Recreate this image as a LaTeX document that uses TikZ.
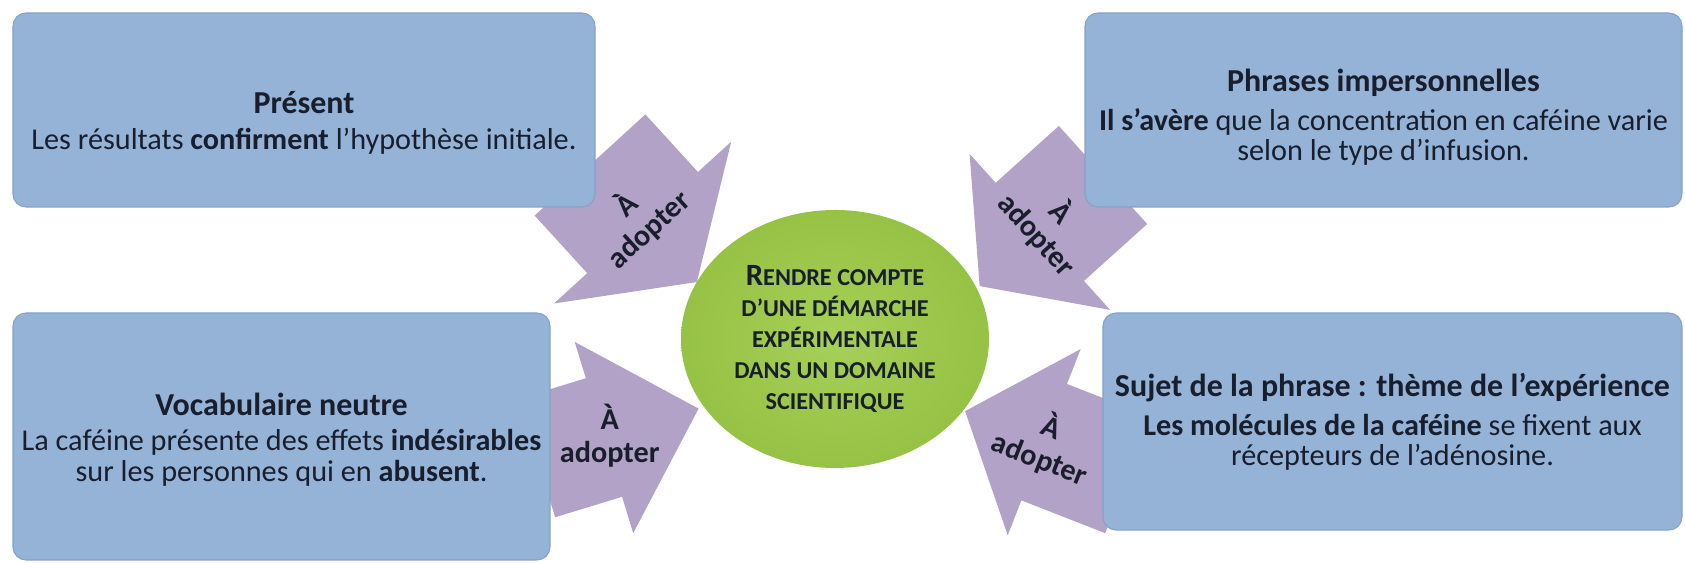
\documentclass[tikz,border=0pt]{standalone}
\usepackage{fontspec}
\setmainfont{Carlito}
\usetikzlibrary{shapes.geometric}

\definecolor{bleuboite}{RGB}{149,179,215}
\definecolor{bordboite}{RGB}{132,162,200}
\definecolor{lila}{RGB}{179,162,199}
\definecolor{encre}{RGB}{25,30,45}
\definecolor{vertA}{RGB}{166,208,88}
\definecolor{vertB}{RGB}{148,192,66}
\definecolor{vertC}{RGB}{116,158,38}
\pgfdeclareradialshading{boule}{\pgfpoint{0bp}{0bp}}{color(0bp)=(vertA); color(28bp)=(vertB); color(50bp)=(vertC)}

\newcommand{\titreboite}{\fontsize{9.1}{9.1}\selectfont\bfseries}

\tikzset{
  boite/.style={rectangle, rounded corners=1.3mm, fill=bleuboite, draw=bordboite,
    line width=0.3pt, inner sep=0pt},
  texteboite/.style={text=encre, align=center, inner sep=0pt,
    font=\fontsize{8.6}{8.6}\selectfont},
  fleche/.style={fill=lila},
  motfleche/.style={text=encre, align=center, inner sep=0pt,
    font=\fontsize{8.6}{9.4}\selectfont\bfseries}
}

\begin{document}
\begin{tikzpicture}

  \useasboundingbox (0,0) rectangle (16.85,5.63);

  % Flèche en haut à gauche
  \begin{scope}[shift={(5.90,3.98)}, rotate=-47.6]
    \fill[fleche] (0,-0.75) -- (0.78,-0.75) -- (0.78,-1.20) -- (1.585,0)
      -- (0.78,1.20) -- (0.78,0.75) -- (0,0.75) -- cycle;
    \node[motfleche, rotate=42.4] (mot1) at (0.70,0) {À\\adopter};
  \end{scope}

  % Flèche en bas à gauche
  \begin{scope}[shift={(5.37,1.05)}, rotate=17]
    \fill[fleche] (0,-0.62) -- (0.70,-0.62) -- (0.70,-1.00) -- (1.69,0)
      -- (0.70,1.00) -- (0.70,0.62) -- (0,0.62) -- cycle;
    \node[motfleche] (mot2) at (0.76,0) {À\\adopter};
  \end{scope}

  % Flèche en haut à droite
  \begin{scope}[shift={(11.03,3.88)}, rotate=222]
    \fill[fleche] (0,-0.66) -- (0.85,-0.66) -- (0.85,-1.05) -- (1.66,0)
      -- (0.85,1.05) -- (0.85,0.66) -- (0,0.66) -- cycle;
    \node[motfleche, rotate=-48] (mot3) at (0.72,0) {À\\adopter};
  \end{scope}

  % Flèche en bas à droite
  \begin{scope}[shift={(11.28,0.88)}, rotate=158.6]
    \fill[fleche] (0,-0.625) -- (0.90,-0.625) -- (0.90,-1.00) -- (1.75,0)
      -- (0.90,1.00) -- (0.90,0.625) -- (0,0.625) -- cycle;
    \node[motfleche, rotate=-21.4] (mot4) at (0.88,0) {À\\adopter};
  \end{scope}

  % Boîtes
  \node[boite, minimum width=5.82cm, minimum height=1.94cm] (present) at (3.04,4.53) {};
  \node[texteboite] (present-t) at ([yshift=-1.3mm]present.center)
    {{\titreboite Présent}\\[1.5pt]
     Les résultats \textbf{confirment} l’hypothèse initiale.};

  \node[boite, minimum width=5.97cm, minimum height=1.94cm] (phrases) at (13.835,4.53) {};
  \node[texteboite] (phrases-t) at ([yshift=-0.7mm]phrases.center)
    {{\titreboite Phrases impersonnelles}\\[2.5pt]
     \textbf{Il s’avère} que la concentration en caféine varie\\
     selon le type d’infusion.};

  \node[boite, minimum width=5.37cm, minimum height=2.47cm] (vocab) at (2.815,1.265) {};
  \node[texteboite] (vocab-t) at ([yshift=-0.3mm]vocab.center)
    {{\titreboite Vocabulaire neutre}\\[1.5pt]
     La caféine présente des effets \textbf{indésirables}\\
     sur les personnes qui en \textbf{abusent}.};

  \node[boite, minimum width=5.79cm, minimum height=2.17cm] (sujet) at (13.925,1.415) {};
  \node[texteboite] (sujet-t) at (sujet.center)
    {{\titreboite Sujet de la phrase : thème de l’expérience}\\[2.5pt]
     \textbf{Les molécules de la caféine} se fixent aux\\
     récepteurs de l’adénosine.};

  % Cercle central
  \node[ellipse, minimum width=3.08cm, minimum height=2.58cm, shading=boule,
    text=encre, align=center, inner sep=0pt,
    font=\fontsize{6.9}{8.8}\selectfont\bfseries] (centre) at (8.35,2.24)
    {{\fontsize{8.8}{8.8}\selectfont R}ENDRE COMPTE\\
     D’UNE DÉMARCHE\\
     EXPÉRIMENTALE\\
     DANS UN DOMAINE\\
     SCIENTIFIQUE};

\end{tikzpicture}
\end{document}
